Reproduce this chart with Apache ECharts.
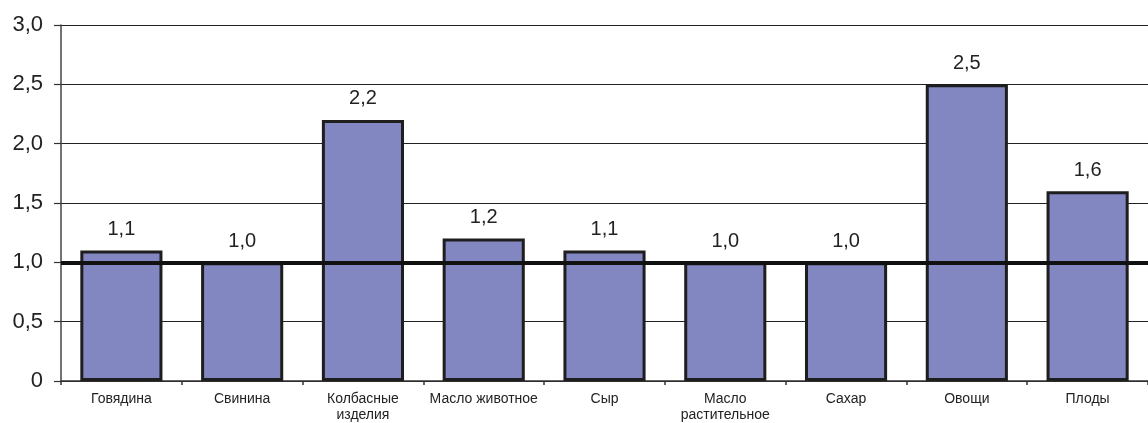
<!DOCTYPE html>
<html>
<head>
<meta charset="utf-8">
<script src="https://cdn.jsdelivr.net/npm/echarts@6/dist/echarts.min.js"></script>
<style>
html,body{margin:0;padding:0;background:#fff;}
#chart{width:1148px;height:423px;}
</style>
</head>
<body>
<div id="chart"></div>
<script>
const categories = ['Говядина','Свинина','Колбасные\nизделия','Масло животное','Сыр','Масло\nрастительное','Сахар','Овощи','Плоды'];
const values = [1.1, 1.0, 2.2, 1.2, 1.1, 1.0, 1.0, 2.5, 1.6];
const referenceValue = 1.0;

const fmt = v => v === 0 ? '0' : v.toFixed(1).replace('.', ',');
const chart = echarts.init(document.getElementById('chart'));
chart.setOption({
  animation: false,
  backgroundColor: '#fff',
  textStyle: { fontFamily: 'Liberation Sans, Arial, sans-serif' },
  grid: { left: 61, top: 25, bottom: 42, right: -8, containLabel: false },
  xAxis: {
    type: 'category',
    data: categories,
    axisLine: { lineStyle: { color: '#333', width: 1.5 } },
    axisTick: { show: true, length: 4, lineStyle: { color: '#333', width: 1.5 } },
    axisLabel: { color: '#222', fontSize: 14, margin: 10, lineHeight: 16, interval: 0 }
  },
  yAxis: {
    type: 'value',
    min: 0, max: 3, interval: 0.5,
    axisLine: { show: true, lineStyle: { color: '#444', width: 1.5 } },
    axisTick: { show: true, length: 7, lineStyle: { color: '#333', width: 1.2 } },
    axisLabel: { color: '#222', fontSize: 22, margin: 18, formatter: fmt },
    splitLine: { show: true, lineStyle: { color: '#222', width: 1.2 } }
  },
  series: [{
    type: 'bar',
    data: values,
    barWidth: '68%',
    itemStyle: { color: '#8387C1', borderColor: '#1e1e1e', borderWidth: 3 },
    label: {
      show: true, position: 'top', distance: 11,
      color: '#222', fontSize: 20,
      formatter: p => fmt(p.value)
    },
    markLine: {
      silent: true,
      symbol: 'none',
      label: { show: false },
      lineStyle: { color: '#111', width: 4, type: 'solid' },
      data: [{ yAxis: referenceValue }]
    }
  }]
});
</script>
</body>
</html>
